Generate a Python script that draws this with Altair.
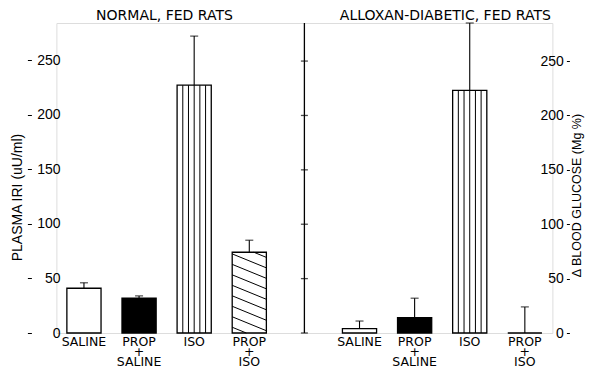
import altair as alt
import pandas as pd

# ---- data ----
treatments = ["SALINE", "PROP+SALINE", "ISO", "PROP+ISO"]
iri_mean = [41, 32, 227, 74]          # plasma IRI, normal fed rats
iri_sem = [5, 2, 45, 11]
glu_mean = [4, 14, 223, 0]            # delta blood glucose, alloxan-diabetic rats
glu_sem = [7, 18, 62, 24]
panel_titles = ["NORMAL, FED RATS", "ALLOXAN-DIABETIC, FED RATS"]
tick_values = [0, 50, 100, 150, 200, 250]

left_slots = ["N:" + t for t in treatments]
right_slots = ["D:" + t for t in treatments]
slots = left_slots + ["gap"] + right_slots

FONT = "DejaVu Sans"
PLOT_W, PLOT_H = 496, 310
PAD_INNER, PAD_OUTER = 0.38, 0.19
BAR_W = PLOT_W / len(slots) * (1 - PAD_INNER)

left_df = pd.DataFrame({"slot": left_slots, "treatment": treatments,
                        "mean": iri_mean,
                        "top": [m + s for m, s in zip(iri_mean, iri_sem)]})
right_df = pd.DataFrame({"slot": right_slots, "treatment": treatments,
                         "mean": glu_mean,
                         "top": [m + s for m, s in zip(glu_mean, glu_sem)]})

# ---- fill patterns (styling, derived from the bars) ----
vert_fracs = [i / 6 for i in range(1, 6)]


def vertical_lines(df):
    iso = df[df.treatment == "ISO"].iloc[0]
    return pd.DataFrame({"slot": iso.slot, "f": vert_fracs,
                         "y0": 0, "y1": iso["mean"]})


def diagonal_hatch(df, spacing=9.6, drop=12.8):
    row = df[df.treatment == "PROP+ISO"].iloc[0]
    top = row["mean"]
    rows = []
    c = spacing * 0.55
    k = 0
    while c < top + drop:
        f0 = max(0.0, (c - top) / drop)
        f1 = min(1.0, c / drop)
        if f1 > f0:
            rows.append({"slot": row.slot, "line": k, "f": f0, "y": c - drop * f0})
            rows.append({"slot": row.slot, "line": k, "f": f1, "y": c - drop * f1})
        c += spacing
        k += 1
    return pd.DataFrame(rows)


label_expr = ("datum.value == 'gap' ? '' : (indexof(datum.value, '+') > 0 ? "
              "[slice(datum.value, 2, indexof(datum.value, '+')), '+', "
              "slice(datum.value, indexof(datum.value, '+') + 1)] : slice(datum.value, 2))")

x_axis = alt.Axis(title=None, labelExpr=label_expr, ticks=False, domain=False,
                  labelAngle=0, labelPadding=2, labelFontSize=12.5, labelLineHeight=10,
                  labelBaseline="top", labelFont=FONT, labelColor="black")
x_scale = alt.Scale(domain=slots, paddingInner=PAD_INNER, paddingOuter=PAD_OUTER)


def X():
    return alt.X("slot:N", scale=x_scale, axis=x_axis)


off_scale = alt.Scale(domain=[0, 1], nice=False, zero=False)

left_axis = alt.Axis(orient="left", offset=25, values=tick_values, domain=False,
                     tickSize=4, tickColor="black", labelPadding=-32.6, labelAlign="right",
                     labelFontSize=14, grid=False,
                     title="PLASMA IRI (uU/ml)", titleX=-14, titleY=174,
                     titleAngle=270, titleBaseline="middle", titleAlign="center",
                     titleFontSize=14, titleFontWeight="normal")
right_axis = alt.Axis(orient="right", offset=14, values=tick_values, domain=False,
                      tickSize=3, tickColor="black", labelPadding=-6, labelAlign="right",
                      labelFontSize=14, grid=False,
                      title="Δ BLOOD GLUCOSE (Mg %)", titleX=9.6, titleY=172,
                      titleAngle=270, titleBaseline="middle", titleAlign="center",
                      titleFontSize=12.5, titleFontWeight="normal")
left_scale = alt.Scale(domain=[0, 284], nice=False)
right_scale = alt.Scale(domain=[0, 285], nice=False)
fill_scale = alt.Scale(domain=treatments, range=["white", "black", "white", "white"])


def group(df, yscale, yaxis, extra=None, hatch=True):
    def Y(field):
        return alt.Y(field, type="quantitative", scale=yscale, axis=yaxis)
    base = alt.Chart(df)
    bars = base.mark_bar(stroke="black", strokeWidth=1.3, width=BAR_W).encode(
        x=X(), y=Y("mean"),
        fill=alt.Fill("treatment:N", scale=fill_scale, legend=None))
    vl = alt.Chart(vertical_lines(df)).mark_rule(color="black", strokeWidth=1).encode(
        x=X(), xOffset=alt.XOffset("f:Q", scale=off_scale), y=Y("y0"), y2="y1")
    err = base.mark_rule(color="black", strokeWidth=1.1).encode(
        x=X(), y=Y("mean"), y2="top")
    cap = base.mark_tick(color="black", size=8, thickness=1.2).encode(
        x=X(), y=Y("top"))
    layers = [bars, vl]
    if hatch:
        hd = diagonal_hatch(df)
        layers.append(alt.Chart(hd).mark_line(color="black", strokeWidth=1).encode(
            x=X(), xOffset=alt.XOffset("f:Q", scale=off_scale), y=Y("y"),
            detail="line:N", order="f:Q"))
    layers += [err, cap]
    if extra is not None:
        layers += extra(Y)
    return alt.layer(*layers)


def middle_axis(Y):
    line_df = pd.DataFrame({"slot": ["gap"], "y0": [0], "y1": [285]})
    tick_df = pd.DataFrame({"slot": "gap", "v": tick_values})
    rule = alt.Chart(line_df).mark_rule(color="black", strokeWidth=1.3).encode(
        x=X(), y=Y("y0"), y2="y1")
    ticks = alt.Chart(tick_df).mark_tick(color="black", size=7, thickness=1.3).encode(
        x=X(), y=Y("v"))
    return [rule, ticks]


left_group = group(left_df, left_scale, left_axis, hatch=True)
right_group = group(right_df, right_scale, right_axis, extra=middle_axis, hatch=False)

data_layer = alt.layer(left_group, right_group).resolve_scale(y="independent")

title_df = pd.DataFrame({"title": panel_titles})
title_layer = alt.Chart(title_df).mark_point(opacity=0).encode(
    x=alt.X("title:N",
            scale=alt.Scale(type="point", domain=panel_titles, padding=0.383),
            axis=alt.Axis(orient="top", title=None, ticks=False, domain=False,
                          labelAngle=0, labelFontSize=14, labelPadding=4,
                          labelBaseline="alphabetic",
                          labelLimit=400, labelFont=FONT, labelColor="black")))

chart = alt.layer(data_layer, title_layer).resolve_scale(x="independent").properties(
    width=PLOT_W, height=PLOT_H,
    padding={"left": 48.4, "top": 15, "right": 32.6, "bottom": 35},
    autosize=alt.AutoSizeParams(type="none"),
).configure_view(stroke=None).configure_axis(
    labelFont=FONT, titleFont=FONT, labelColor="black", titleColor="black",
    titleFontWeight="normal",
).configure(background="white")

chart.save("out.html", embed_options={"renderer": "svg", "actions": False})
